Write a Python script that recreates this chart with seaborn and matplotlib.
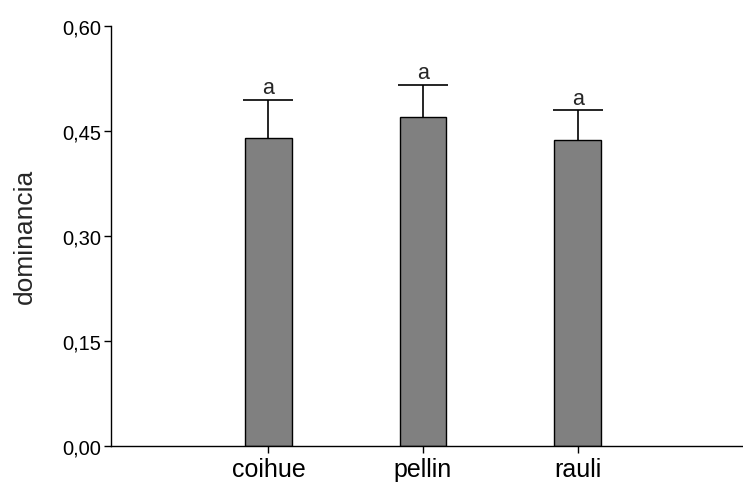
import numpy as np
import pandas as pd
import seaborn as sns
import matplotlib.pyplot as plt
from matplotlib.transforms import offset_copy

species = ['coihue', 'pellin', 'rauli']
dominancia = [0.440, 0.470, 0.437]
error = [0.054, 0.045, 0.042]
letters = ['a', 'a', 'a']
yticks = [0.00, 0.15, 0.30, 0.45, 0.60]
ytick_labels = ['0,00', '0,15', '0,30', '0,45', '0,60']

sns.set_style('ticks')
plt.rcParams['font.family'] = ['Liberation Sans', 'DejaVu Sans']

df = pd.DataFrame({'especie': species, 'dominancia': dominancia})
df['top'] = df['dominancia'] + np.array(error)

fig = plt.figure(figsize=(7.43, 4.85), dpi=100)
ax = fig.add_axes([0.149, 0.0784, 0.851, 0.8665])

sns.barplot(data=df, x='especie', y='dominancia', color='#808080',
            saturation=1, width=0.3, edgecolor='black', linewidth=1.0,
            errorbar=None, ax=ax, zorder=2)
for p in ax.patches:
    p.set_facecolor('#808080')

# error bars only upward, cap only on top
x = np.arange(len(species))
ax.errorbar(x, df['dominancia'], yerr=[np.zeros(len(error)), error], fmt='none',
            ecolor='black', elinewidth=1.2, capsize=0, zorder=1)
ax.plot(x, df['top'], ls='none', marker='_', markersize=36,
        markeredgewidth=1.2, color='black', zorder=1)

# letters above the caps
trans = offset_copy(ax.transData, fig=fig, x=0, y=5, units='points')
for i, v in enumerate(df['top']):
    ax.text(i, v, letters[i], transform=trans, ha='center', va='baseline',
            fontsize=15.5, fontfamily='Liberation Sans')

ax.set_xlim(-1.02, 3.07)
ax.set_ylim(0, 0.6)
ax.set_yticks(yticks)
ax.set_yticklabels(ytick_labels)
ax.tick_params(axis='y', labelsize=14.5, length=5, width=1.0, pad=2, colors='black')
ax.tick_params(axis='x', labelsize=18, length=5, width=1.0, pad=3, colors='black')
ax.set_xlabel('')
ax.set_ylabel('dominancia', fontsize=19)
ax.yaxis.set_label_coords(-0.117, 0.5)

sns.despine(ax=ax)
for s in ['left', 'bottom']:
    ax.spines[s].set_linewidth(1.0)
    ax.spines[s].set_color('black')

fig.savefig('out.png', dpi=100)
